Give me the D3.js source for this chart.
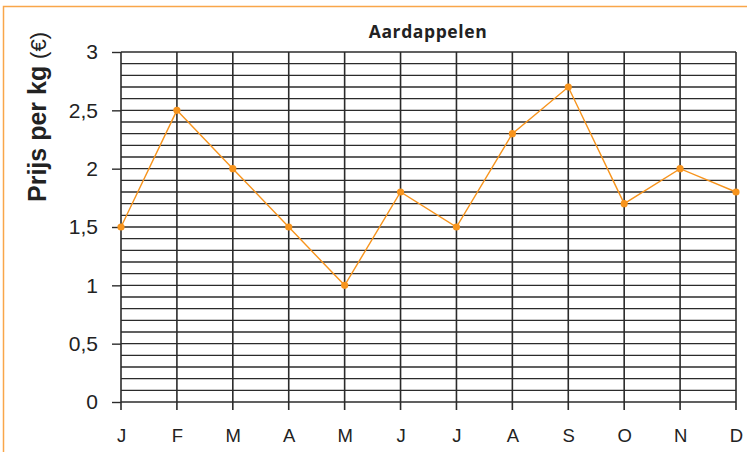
<!DOCTYPE html>
<html>
<head>
<meta charset="utf-8">
<script src="https://cdn.jsdelivr.net/npm/d3@7"></script>
<style>
  html, body { margin: 0; padding: 0; background: #fff; }
  svg { display: block; }
</style>
</head>
<body>
<script>
// Maandelijkse prijs van aardappelen (euro per kg)
const months = ["J", "F", "M", "A", "M", "J", "J", "A", "S", "O", "N", "D"];
const prices = [1.5, 2.5, 2.0, 1.5, 1.0, 1.8, 1.5, 2.3, 2.7, 1.7, 2.0, 1.8];
const yTicks = [0, 0.5, 1, 1.5, 2, 2.5, 3];
const yTickLabels = ["0", "0,5", "1", "1,5", "2", "2,5", "3"];
const minorSteps = d3.range(0, 31).map(i => i / 10);

const W = 747, H = 452;
const plotLeft = 121, plotRight = 736, plotTop = 52, plotBottom = 402;

const svg = d3.select("body").append("svg")
  .attr("width", W).attr("height", H);

// outer frame
svg.append("rect")
  .attr("x", 3.5).attr("y", 6.5)
  .attr("width", W + 20).attr("height", H + 20)
  .attr("fill", "none").attr("stroke", "#f9a64a").attr("stroke-width", 1.5);

const x = d3.scalePoint().domain(d3.range(months.length)).range([plotLeft, plotRight]);
const y = d3.scaleLinear().domain([0, 3]).range([plotBottom, plotTop]);

const grid = svg.append("g");

// horizontal grid every 0.1
grid.selectAll("line.h").data(minorSteps).join("line")
  .attr("class", "h")
  .attr("x1", plotLeft).attr("x2", plotRight)
  .attr("y1", d => y(d)).attr("y2", d => y(d))
  .attr("stroke", "#2b2b2b").attr("stroke-width", 1.4);

// vertical grid at each month, extending below the axis
grid.selectAll("line.v").data(d3.range(months.length)).join("line")
  .attr("class", "v")
  .attr("x1", d => x(d)).attr("x2", d => x(d))
  .attr("y1", plotTop).attr("y2", plotBottom + 8)
  .attr("stroke", "#2b2b2b").attr("stroke-width", 1.6);

// y axis ticks and labels
const yAxis = d3.axisLeft(y).tickValues(yTicks)
  .tickFormat((d, i) => yTickLabels[i]).tickSize(9).tickPadding(14);
const ya = svg.append("g").attr("transform", `translate(${plotLeft},0)`).call(yAxis);
ya.select(".domain").remove();
ya.selectAll(".tick line").attr("stroke", "#2b2b2b").attr("stroke-width", 1.4);
ya.selectAll(".tick text")
  .attr("fill", "#222")
  .style("font-family", "'Liberation Sans', Arial, sans-serif")
  .style("font-size", "21px");

// x axis labels
const xAxis = d3.axisBottom(x).tickFormat(i => months[i]).tickSize(0).tickPadding(27);
const xa = svg.append("g").attr("transform", `translate(0,${plotBottom})`).call(xAxis);
xa.select(".domain").remove();
xa.selectAll(".tick text")
  .attr("fill", "#222")
  .style("font-family", "'Liberation Sans', Arial, sans-serif")
  .style("font-size", "18.5px");

// title
svg.append("text")
  .attr("x", 428).attr("y", 38)
  .attr("text-anchor", "middle")
  .attr("fill", "#222")
  .style("font-family", "'Open Sans', 'Liberation Sans', sans-serif")
  .style("font-weight", "bold")
  .style("font-size", "17.5px")
  .style("letter-spacing", "0.6px")
  .text("Aardappelen");

// y axis title
const yt = svg.append("text")
  .attr("transform", "translate(46,117) rotate(-90)")
  .attr("text-anchor", "middle")
  .attr("fill", "#222")
  .style("font-family", "'Liberation Sans', Arial, sans-serif");
yt.append("tspan").style("font-weight", "bold").style("font-size", "25px").text("Prijs per kg ");
yt.append("tspan").style("font-size", "22px").text("(€)");

// price line
const line = d3.line().x((d, i) => x(i)).y(d => y(d));
svg.append("path")
  .datum(prices)
  .attr("d", line)
  .attr("fill", "none")
  .attr("stroke", "#f7941d")
  .attr("stroke-width", 1.4);

svg.selectAll("circle.pt").data(prices).join("circle")
  .attr("class", "pt")
  .attr("cx", (d, i) => x(i)).attr("cy", d => y(d))
  .attr("r", 3.6)
  .attr("fill", "#f7941d");
</script>
</body>
</html>
